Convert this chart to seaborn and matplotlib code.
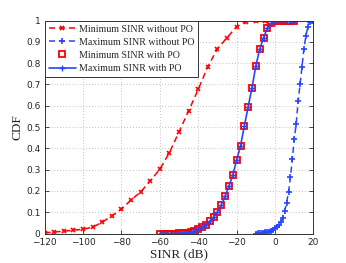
import numpy as np
import pandas as pd
import matplotlib
matplotlib.use("Agg")
import matplotlib.pyplot as plt
import seaborn as sns

# minimum SINR without PO (red dashed, x markers)
sinr_min_nopo = [-120, -115, -110, -105, -100, -95, -90, -85, -80, -75, -70, -65, -60, -55,
                 -50, -45, -40, -35, -30, -25, -20, -15, -10, -5, 0, 5, 10]
cdf_min_nopo = [0.003, 0.007, 0.011, 0.016, 0.020, 0.030, 0.053, 0.083, 0.114, 0.158, 0.195,
                0.247, 0.302, 0.380, 0.478, 0.576, 0.677, 0.784, 0.867, 0.920, 0.971, 0.995,
                1.0, 1.0, 1.0, 1.0, 1.0]

# maximum SINR without PO (blue dashed, + markers)
sinr_max_nopo = [-10, -9, -8, -7, -6, -5, -4, -3, -2, -1, 0, 1, 2, 3, 4, 5, 6, 7, 8, 9, 10,
                 11, 12, 13, 14, 15, 16, 17, 18, 19, 20]
cdf_max_nopo = [0.0, 0.001, 0.002, 0.003, 0.004, 0.005, 0.007, 0.009, 0.013, 0.018, 0.025,
                0.032, 0.040, 0.055, 0.075, 0.105, 0.145, 0.195, 0.265, 0.350, 0.445, 0.515,
                0.620, 0.700, 0.780, 0.868, 0.925, 0.968, 0.995, 1.0, 1.0]

# with PO: min and max curves coincide
sinr_po = [-60, -58, -56, -54, -52, -50, -48, -46, -44, -42, -40, -38, -36, -34, -32, -30,
           -28, -26, -24, -22, -20, -18, -16, -14, -12, -10, -8, -6, -4, -2, 0, 2, 4, 6, 8, 10]
cdf_min_po = [0.0, 0.0, 0.0, 0.0, 0.0, 0.001, 0.002, 0.004, 0.008, 0.014, 0.020, 0.030,
              0.042, 0.058, 0.078, 0.103, 0.134, 0.177, 0.223, 0.275, 0.346, 0.411, 0.505,
              0.596, 0.685, 0.788, 0.865, 0.920, 0.965, 0.987, 0.997, 1.0, 1.0, 1.0, 1.0, 1.0]
cdf_max_po = cdf_min_po

sns.set_style("ticks")
plt.rcParams["font.family"] = ["Liberation Serif", "DejaVu Serif"]

fig = plt.figure(figsize=(3.46, 2.63), dpi=100)
ax = fig.add_axes([0.129, 0.112, 0.777, 0.810])

red = "#ff0000"
blue = "#2646ff"

sns.lineplot(x=sinr_min_nopo, y=cdf_min_nopo, ax=ax, sort=False, color=red, linestyle=(0, (4, 2.5)),
             linewidth=1.1, marker="x", markersize=3.5, markeredgewidth=1.2,
             markeredgecolor=red, label="Minimum SINR without PO")
sns.lineplot(x=sinr_max_nopo, y=cdf_max_nopo, ax=ax, sort=False, color=blue, linestyle=(0, (4, 2.5)),
             linewidth=1.1, marker="+", markersize=5, markeredgewidth=1.2,
             markeredgecolor=blue, label="Maximum SINR without PO")
sns.lineplot(x=sinr_po, y=cdf_min_po, ax=ax, sort=False, color=red, linestyle="none",
             marker="s", markersize=4, markerfacecolor="none", markeredgewidth=1.3,
             markeredgecolor=red, label="Minimum SINR with PO")
sns.lineplot(x=sinr_po, y=cdf_max_po, ax=ax, sort=False, color=blue, linestyle="-",
             linewidth=1.2, marker="+", markersize=5, markeredgewidth=1.0,
             markeredgecolor=blue, label="Maximum SINR with PO")

ax.set_xlim(-120, 20)
ax.set_ylim(0, 1)
ax.set_xticks([-120, -100, -80, -60, -40, -20, 0, 20])
ax.set_yticks([0, 0.1, 0.2, 0.3, 0.4, 0.5, 0.6, 0.7, 0.8, 0.9, 1])
ax.set_yticklabels(["0", "0.1", "0.2", "0.3", "0.4", "0.5", "0.6", "0.7", "0.8", "0.9", "1"])
ax.set_xticklabels(["\u2212120", "\u2212100", "\u221280", "\u221260", "\u221240", "\u221220", "0", "20"])
for lab in ax.get_xticklabels() + ax.get_yticklabels():
    lab.set_family("DejaVu Sans")
    lab.set_fontsize(6.5)
ax.tick_params(direction="in", top=True, right=True, length=3, width=0.6, pad=3)
ax.grid(True, linestyle=(0, (1, 2.5)), color="#aaaaaa", linewidth=0.6)
for s in ax.spines.values():
    s.set_linewidth(0.7)
    s.set_color("#333333")

ax.set_xlabel("SINR (dB)", fontsize=9.5, labelpad=1)
ax.set_ylabel("CDF", fontsize=9.5, labelpad=2)

leg = ax.legend(loc="upper left", fontsize=7.2, frameon=True, fancybox=False, borderaxespad=0,
                handlelength=2.7, handletextpad=0.3, labelspacing=0.42, borderpad=0.4)
leg.get_frame().set_edgecolor("#333333")
leg.get_frame().set_linewidth(0.7)
leg.get_frame().set_alpha(1)

fig.savefig("out.png", dpi=100)
